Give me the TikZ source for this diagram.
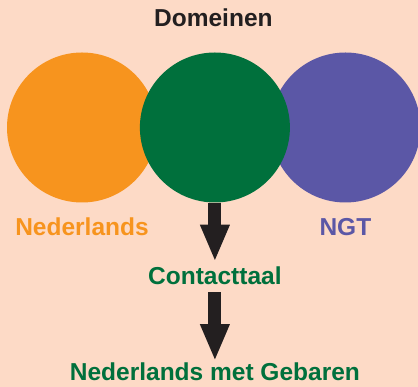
\documentclass[tikz,border=0pt]{standalone}
\usepackage{fontspec}
\setmainfont{Liberation Sans}
\usepackage{xcolor}
\usetikzlibrary{positioning, arrows.meta}
\definecolor{peach}{HTML}{FDDAC6}
\definecolor{nlorange}{HTML}{F7941E}
\definecolor{ctgreen}{HTML}{00703C}
\definecolor{ngtpurple}{HTML}{5B57A6}
\definecolor{arrowblack}{HTML}{231F20}
\tikzset{langcircle/.style={circle,minimum size=150pt,inner sep=0pt}}
\tikzset{lbl/.style={font=\bfseries\fontsize{24.5}{28}\selectfont,inner sep=0pt}}
\tikzset{bigarrow/.style={line width=13pt,-{Triangle[width=27pt,length=37pt]},color=arrowblack}}

\begin{document}
\begin{tikzpicture}[x=1pt, y=1pt, node distance = 15pt, auto]
        \useasboundingbox[fill=peach] (0,0) rectangle (418,387);
        \node[langcircle,fill=nlorange] (nl) at (82,259.5) {};
        \node[langcircle,fill=ngtpurple] (ngt) [right = 113pt of nl] {};
        \node[langcircle,fill=ctgreen] (ct) [right = -17.5pt of nl] {};

        \node[lbl,text=arrowblack] (dom) [above = 25.5pt of ct, xshift=-1.5pt] {Domeinen};
        \node[lbl,text=nlorange] (nllabel) [below = 15pt of nl] {Nederlands};
        \node[lbl,text=ngtpurple] (ngtlabel) [below = 15pt of ngt] {NGT};

        \node[lbl,text=ctgreen] (contact) [below = 64pt of ct] {Contacttaal};
        \node[lbl,text=ctgreen] (nmg) [below = 77pt of contact] {Nederlands met Gebaren};

        \draw[bigarrow] (ct.south) -- ([yshift=5pt]contact.north);
        \draw[bigarrow] ([yshift=-7pt]contact.south) -- ([yshift=1pt]nmg.north);
    \end{tikzpicture}
\end{document}
